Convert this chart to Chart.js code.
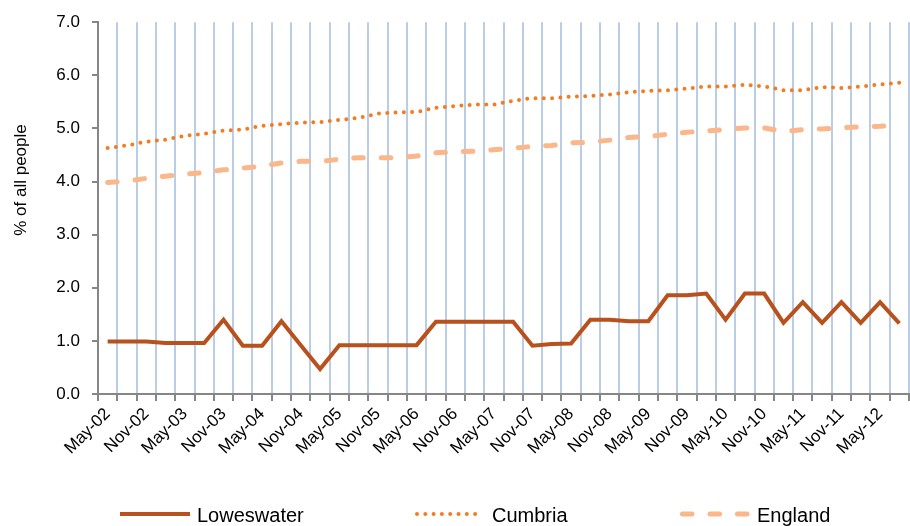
<!DOCTYPE html>
<html lang="en">
<head>
  <meta charset="UTF-8">
  <title>Loweswater, Cumbria and England</title>
  <script src="https://cdn.jsdelivr.net/npm/chart.js"></script>
  <style>
    body {
      margin: 0;
      background: #fff;
    }
    #wrap {
      width: 910px;
      height: 526px;
    }
  </style>
</head>
<body>

<div id="wrap">
  <canvas id="chart" width="910" height="526"></canvas>
</div>

<script>
// quarterly, May-02 .. Aug-12
const quarters = [
  'May-02', 'Aug-02', 'Nov-02', 'Feb-03', 'May-03', 'Aug-03', 'Nov-03', 'Feb-04',
  'May-04', 'Aug-04', 'Nov-04', 'Feb-05', 'May-05', 'Aug-05', 'Nov-05', 'Feb-06',
  'May-06', 'Aug-06', 'Nov-06', 'Feb-07', 'May-07', 'Aug-07', 'Nov-07', 'Feb-08',
  'May-08', 'Aug-08', 'Nov-08', 'Feb-09', 'May-09', 'Aug-09', 'Nov-09', 'Feb-10',
  'May-10', 'Aug-10', 'Nov-10', 'Feb-11', 'May-11', 'Aug-11', 'Nov-11', 'Feb-12',
  'May-12', 'Aug-12'
];

const loweswater = [
  0.99, 0.99, 0.99, 0.96, 0.96, 0.96, 1.40, 0.91, 0.91, 1.37,
  0.92, 0.47, 0.92, 0.92, 0.92, 0.92, 0.92, 1.36, 1.36, 1.36,
  1.36, 1.36, 0.91, 0.94, 0.95, 1.40, 1.40, 1.37, 1.37, 1.86,
  1.86, 1.89, 1.40, 1.89, 1.89, 1.34, 1.73, 1.34, 1.73, 1.34,
  1.73, 1.33
];

const cumbria = [
  4.63, 4.68, 4.75, 4.79, 4.86, 4.90, 4.96, 4.98, 5.05, 5.08,
  5.11, 5.12, 5.16, 5.20, 5.28, 5.30, 5.31, 5.39, 5.42, 5.45,
  5.45, 5.52, 5.57, 5.57, 5.60, 5.61, 5.64, 5.68, 5.71, 5.72,
  5.75, 5.79, 5.79, 5.82, 5.79, 5.72, 5.72, 5.78, 5.76, 5.79,
  5.83, 5.86
];

const england = [
  3.98, 4.01, 4.06, 4.10, 4.14, 4.17, 4.22, 4.25, 4.29, 4.35,
  4.38, 4.38, 4.42, 4.45, 4.45, 4.45, 4.48, 4.54, 4.56, 4.57,
  4.60, 4.63, 4.66, 4.68, 4.73, 4.74, 4.78, 4.83, 4.85, 4.89,
  4.93, 4.95, 4.98, 5.01, 5.01, 4.94, 4.98, 4.99, 5.01, 5.03,
  5.04, 5.07
];

const seriesNames = ['Loweswater', 'Cumbria', 'England'];
const yTicks = [0, 1, 2, 3, 4, 5, 6, 7];
const yTitle = '% of all people';

const FONT = '"Liberation Sans", Arial, sans-serif';

// legend and axis title drawn by hand, placed like the original
const bottomLegend = {
  id: 'bottomLegend',
  afterDraw(chart) {
    const ctx = chart.ctx;
    const starts = [120, 415, 680];
    chart.data.datasets.forEach((ds, i) => {
      const x = starts[i], y = 514;
      ctx.save();
      ctx.strokeStyle = ds.borderColor;
      ctx.lineWidth = ds.borderWidth;
      ctx.lineCap = ds.borderCapStyle || 'butt';
      ctx.setLineDash(ds.borderDash || []);
      const cap = ctx.lineCap === 'round' ? ds.borderWidth / 2 : 0;
      ctx.beginPath();
      ctx.moveTo(x + cap, y);
      ctx.lineTo(x + 70 - cap, y);
      ctx.stroke();
      ctx.setLineDash([]);
      ctx.fillStyle = '#000';
      ctx.font = '20px ' + FONT;
      ctx.textBaseline = 'middle';
      ctx.fillText(ds.label, x + 77, y + 2);
      ctx.restore();
    });

    ctx.save();
    ctx.translate(21, 180);
    ctx.rotate(-Math.PI / 2);
    ctx.fillStyle = '#000';
    ctx.font = '17px ' + FONT;
    ctx.textAlign = 'center';
    ctx.textBaseline = 'middle';
    ctx.fillText(yTitle, 0, 0);
    ctx.restore();
  }
};

new Chart(document.getElementById('chart').getContext('2d'), {
  type: 'line',
  data: {
    labels: quarters,
    datasets: [
      {
        label: seriesNames[0],
        data: loweswater,
        borderColor: '#b8511b',
        borderWidth: 4,
        pointRadius: 0,
        tension: 0
      },
      {
        label: seriesNames[1],
        data: cumbria,
        borderColor: '#f47c20',
        borderWidth: 4,
        borderDash: [0, 8.3],
        borderCapStyle: 'round',
        pointRadius: 0,
        tension: 0
      },
      {
        label: seriesNames[2],
        data: england,
        borderColor: '#fbb68a',
        borderWidth: 5,
        borderDash: [9.5, 18],
        borderCapStyle: 'round',
        pointRadius: 0,
        tension: 0
      }
    ]
  },
  options: {
    responsive: false,
    animation: false,
    layout: {
      padding: { left: 0, right: 1, top: 19, bottom: 30 }
    },
    plugins: {
      legend: { display: false },
      tooltip: { enabled: false }
    },
    scales: {
      x: {
        type: 'category',
        offset: true,
        afterFit: s => {
          s.height = 102;
          s.paddingRight = 0;
        },
        grid: {
          offset: true,
          color: '#b9cde6',
          lineWidth: 2,
          drawTicks: true,
          tickLength: 7,
          tickColor: '#868686',
          tickWidth: 2
        },
        border: { color: '#868686', width: 2 },
        ticks: {
          autoSkip: false,
          maxRotation: 45,
          minRotation: 45,
          padding: 3,
          color: '#000',
          font: { family: FONT, size: 17 },
          callback: (v, i) => (i % 2 === 0 ? quarters[i] : '')
        }
      },
      y: {
        min: yTicks[0],
        max: yTicks[yTicks.length - 1],
        afterFit: s => { s.width = 98; },
        grid: {
          drawOnChartArea: false,
          drawTicks: true,
          tickLength: 6,
          color: '#868686',
          lineWidth: 2
        },
        border: { color: '#868686', width: 2 },
        ticks: {
          stepSize: 1,
          padding: 12,
          color: '#000',
          font: { family: FONT, size: 17 },
          callback: v => v.toFixed(1)
        }
      }
    }
  },
  plugins: [bottomLegend]
});
</script>

</body>
</html>
